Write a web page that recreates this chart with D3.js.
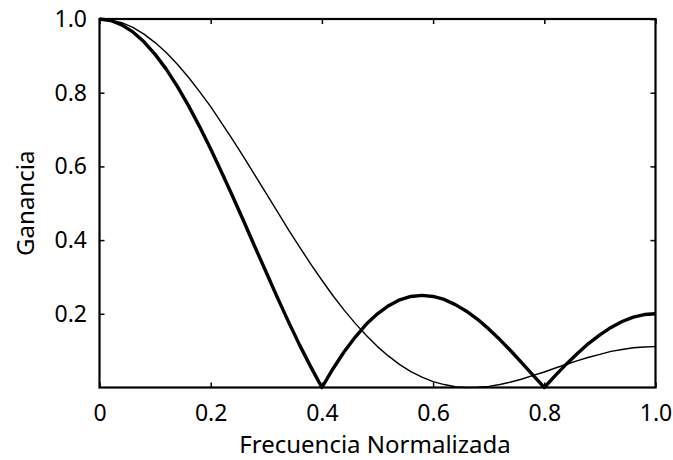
<!DOCTYPE html>
<html>
<head>
<meta charset="utf-8">
<script src="https://cdn.jsdelivr.net/npm/d3@7"></script>
<style>
  body { margin: 0; background: #fff; }
  text { font-family: "Noto Sans", "Open Sans", sans-serif; fill: #000; }
</style>
</head>
<body>
<svg id="chart" width="673" height="460"></svg>
<script>
// normalized frequency samples
const freq = [0, 0.02, 0.04, 0.06, 0.08, 0.10, 0.12, 0.14, 0.16, 0.18, 0.20,
  0.22, 0.24, 0.26, 0.28, 0.30, 0.32, 0.34, 0.36, 0.38, 0.40,
  0.42, 0.44, 0.46, 0.48, 0.50, 0.52, 0.54, 0.56, 0.58, 0.60,
  0.62, 0.64, 0.66, 0.68, 0.70, 0.72, 0.74, 0.76, 0.78, 0.80,
  0.82, 0.84, 0.86, 0.88, 0.90, 0.92, 0.94, 0.96, 0.98, 1.00];

// thick curve
const gainThick = [1.000, 0.996, 0.984, 0.965, 0.938, 0.904, 0.864, 0.817, 0.765, 0.708, 0.647,
  0.583, 0.517, 0.449, 0.380, 0.312, 0.244, 0.178, 0.115, 0.056, 0.000,
  0.051, 0.097, 0.137, 0.172, 0.200, 0.222, 0.238, 0.247, 0.250, 0.247,
  0.239, 0.225, 0.207, 0.185, 0.159, 0.130, 0.099, 0.066, 0.033, 0.000,
  0.033, 0.064, 0.093, 0.120, 0.143, 0.163, 0.179, 0.191, 0.198, 0.200];

// thin curve
const gainThin = [1.000, 0.997, 0.990, 0.977, 0.959, 0.936, 0.909, 0.877, 0.842, 0.803, 0.762,
  0.717, 0.671, 0.624, 0.575, 0.526, 0.477, 0.428, 0.381, 0.335, 0.291,
  0.249, 0.210, 0.174, 0.141, 0.111, 0.085, 0.062, 0.043, 0.028, 0.016,
  0.008, 0.002, 0.000, 0.001, 0.003, 0.008, 0.015, 0.023, 0.033, 0.042,
  0.053, 0.063, 0.073, 0.082, 0.090, 0.098, 0.103, 0.108, 0.110, 0.111];

const xTicks = [0, 0.2, 0.4, 0.6, 0.8, 1.0];
const xTickLabels = ["0", "0.2", "0.4", "0.6", "0.8", "1.0"];
const yTicks = [0.2, 0.4, 0.6, 0.8, 1.0];
const yTickLabels = ["0.2", "0.4", "0.6", "0.8", "1.0"];

const svg = d3.select("#chart");
const plotLeft = 99.5, plotRight = 655.5, plotTop = 19, plotBottom = 387.5;
const tickLen = 5;

let x = d3.scaleLinear().domain([0, 1]).range([plotLeft, plotRight]);
let y = d3.scaleLinear().domain([0, 1]).range([plotBottom, plotTop]);

// curves
let line = (vals) => d3.line()
    .x((d, i) => x(freq[i]))
    .y(d => y(d))(vals);

svg.append("path")
    .attr("d", line(gainThin))
    .attr("fill", "none")
    .attr("stroke", "#000")
    .attr("stroke-width", 1.4)
    .attr("stroke-linejoin", "round");

svg.append("path")
    .attr("d", line(gainThick))
    .attr("fill", "none")
    .attr("stroke", "#000")
    .attr("stroke-width", 3.4)
    .attr("stroke-linejoin", "round");

// axes (ticks inside)
svg.append("g")
    .attr("transform", `translate(0,${plotBottom})`)
    .call(d3.axisBottom(x).tickValues(xTicks).tickSizeInner(-tickLen).tickSizeOuter(0)
        .tickPadding(17).tickFormat((d, i) => xTickLabels[i]));

svg.append("g")
    .attr("transform", `translate(0,${plotTop})`)
    .call(d3.axisTop(x).tickValues(xTicks).tickSizeInner(-tickLen).tickSizeOuter(0).tickFormat(""));

svg.append("g")
    .attr("transform", `translate(${plotLeft},0)`)
    .call(d3.axisLeft(y).tickValues(yTicks).tickSizeInner(-tickLen).tickSizeOuter(0)
        .tickPadding(12.5).tickFormat((d, i) => yTickLabels[i]));

svg.append("g")
    .attr("transform", `translate(${plotRight},0)`)
    .call(d3.axisRight(y).tickValues(yTicks).tickSizeInner(-tickLen).tickSizeOuter(0).tickFormat(""));

svg.selectAll(".domain").remove();
svg.selectAll(".tick line").attr("stroke", "#000").attr("stroke-width", 1.5);
svg.selectAll(".tick text").style("font-size", "23px");

// frame
svg.append("rect")
    .attr("x", plotLeft).attr("y", plotTop)
    .attr("width", plotRight - plotLeft).attr("height", plotBottom - plotTop)
    .attr("fill", "none")
    .attr("stroke", "#000")
    .attr("stroke-width", 2.2);

// labels
svg.append("text")
    .attr("x", 375)
    .attr("y", 453)
    .attr("text-anchor", "middle")
    .style("font-size", "24px")
    .text("Frecuencia Normalizada");

svg.append("text")
    .attr("transform", `translate(34,${(plotTop + plotBottom) / 2}) rotate(-90)`)
    .attr("text-anchor", "middle")
    .style("font-size", "24px")
    .text("Ganancia");
</script>
</body>
</html>
